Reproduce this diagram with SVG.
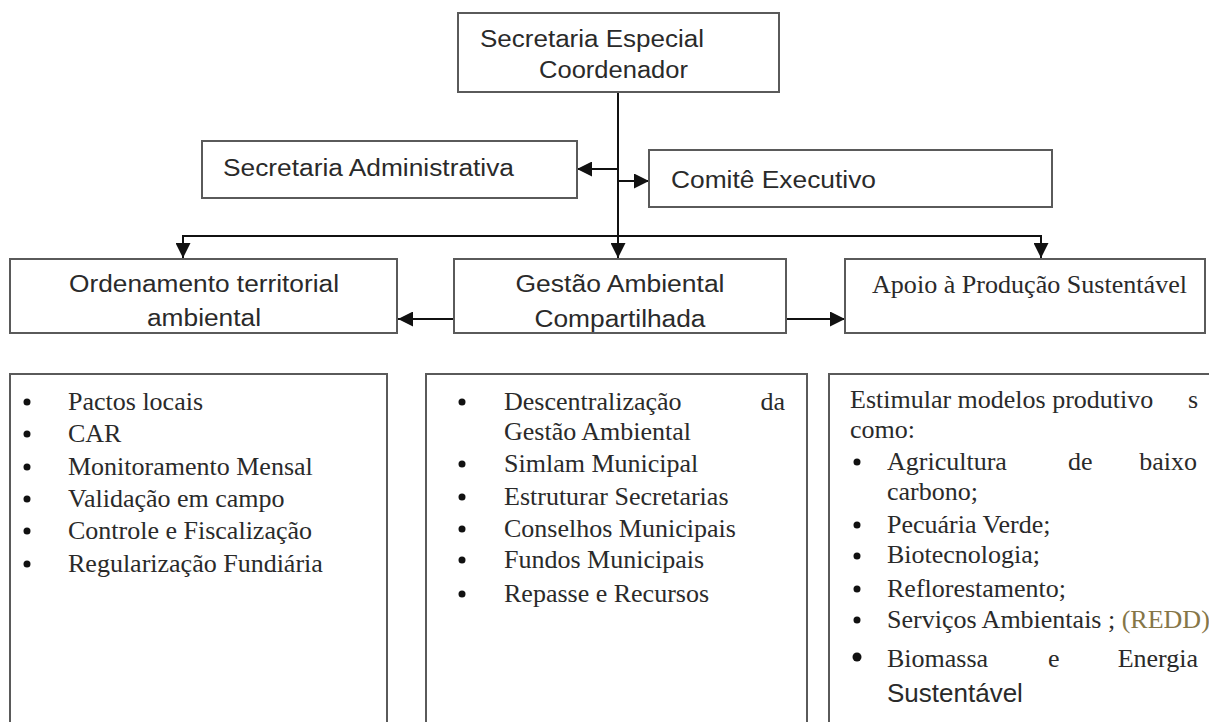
<svg xmlns="http://www.w3.org/2000/svg" width="1209" height="722" viewBox="0 0 1209 722">
  <style>
    .box { fill: #ffffff; stroke: #5a5a5a; stroke-width: 2; }
    .sans { font-family: "Liberation Sans", Arial, sans-serif; font-size: 23px; fill: #2a2a2a; }
    .serif { font-family: "Liberation Serif", "Times New Roman", serif; font-size: 26px; fill: #2a2a2a; }
    .wire { fill: none; stroke: #111111; stroke-width: 2; }
    .dot { fill: #111111; }
    .redd { fill: #857647; }
  </style>
  <defs>
    <marker id="arrow" markerUnits="userSpaceOnUse" markerWidth="15" markerHeight="15" refX="15" refY="7.5" orient="auto">
      <path d="M0,0 L15,7.5 L0,15 z" fill="#111111"/>
    </marker>
  </defs>
  <rect width="1209" height="722" fill="#ffffff"/>

  <!-- connectors -->
  <g id="connectors">
    <path class="wire" d="M618,92 V258" marker-end="url(#arrow)"/>
    <path class="wire" d="M618,169 H577" marker-end="url(#arrow)"/>
    <path class="wire" d="M618,181 H649" marker-end="url(#arrow)"/>
    <path class="wire" d="M618,236 H183 V258" marker-end="url(#arrow)"/>
    <path class="wire" d="M618,236 H1041 V258" marker-end="url(#arrow)"/>
    <path class="wire" d="M454,319 H398" marker-end="url(#arrow)"/>
    <path class="wire" d="M786,319 H845" marker-end="url(#arrow)"/>
  </g>

  <!-- top level -->
  <g id="secretaria-especial">
    <rect class="box" x="458" y="13" width="321" height="79"/>
    <text class="sans" x="480" y="47" textLength="224" lengthAdjust="spacingAndGlyphs">Secretaria Especial</text>
    <text class="sans" x="539" y="78" textLength="149" lengthAdjust="spacingAndGlyphs">Coordenador</text>
  </g>

  <g id="secretaria-administrativa">
    <rect class="box" x="202" y="141" width="375" height="57"/>
    <text class="sans" x="223" y="176" textLength="291" lengthAdjust="spacingAndGlyphs">Secretaria Administrativa</text>
  </g>

  <g id="comite-executivo">
    <rect class="box" x="649" y="150" width="403" height="57"/>
    <text class="sans" x="671" y="188" textLength="205" lengthAdjust="spacingAndGlyphs">Comitê Executivo</text>
  </g>

  <!-- second level -->
  <g id="ordenamento">
    <rect class="box" x="10" y="259" width="387" height="74"/>
    <text class="sans" x="204" y="292" text-anchor="middle" textLength="270" lengthAdjust="spacingAndGlyphs">Ordenamento territorial</text>
    <text class="sans" x="204" y="326" text-anchor="middle" textLength="114" lengthAdjust="spacingAndGlyphs">ambiental</text>
  </g>

  <g id="gestao">
    <rect class="box" x="454" y="259" width="332" height="74"/>
    <text class="sans" x="620" y="292" text-anchor="middle" textLength="209" lengthAdjust="spacingAndGlyphs">Gestão Ambiental</text>
    <text class="sans" x="620" y="327" text-anchor="middle" textLength="171" lengthAdjust="spacingAndGlyphs">Compartilhada</text>
  </g>

  <g id="apoio">
    <rect class="box" x="845" y="259" width="360" height="74"/>
    <text class="serif" x="872" y="293" textLength="315" lengthAdjust="spacingAndGlyphs">Apoio à Produção Sustentável</text>
  </g>

  <!-- detail lists -->
  <g id="lista-ordenamento">
    <rect class="box" x="10" y="374" width="377" height="370"/>
    <circle class="dot" cx="27" cy="402" r="3.5"/>
    <circle class="dot" cx="27" cy="434" r="3.5"/>
    <circle class="dot" cx="27" cy="467" r="3.5"/>
    <circle class="dot" cx="27" cy="499" r="3.5"/>
    <circle class="dot" cx="27" cy="531" r="3.5"/>
    <circle class="dot" cx="27" cy="564" r="3.5"/>
    <text class="serif" x="68" y="410">Pactos locais</text>
    <text class="serif" x="68" y="442">CAR</text>
    <text class="serif" x="68" y="475">Monitoramento Mensal</text>
    <text class="serif" x="68" y="507">Validação em campo</text>
    <text class="serif" x="68" y="539">Controle e Fiscalização</text>
    <text class="serif" x="68" y="572">Regularização Fundiária</text>
  </g>

  <g id="lista-gestao">
    <rect class="box" x="426" y="374" width="381" height="370"/>
    <circle class="dot" cx="462" cy="402" r="3.5"/>
    <circle class="dot" cx="462" cy="464" r="3.5"/>
    <circle class="dot" cx="462" cy="497" r="3.5"/>
    <circle class="dot" cx="462" cy="529" r="3.5"/>
    <circle class="dot" cx="462" cy="560" r="3.5"/>
    <circle class="dot" cx="462" cy="594" r="3.5"/>
    <text class="serif" x="504" y="410">Descentralização</text>
    <text class="serif" x="785" y="410" text-anchor="end">da</text>
    <text class="serif" x="504" y="440">Gestão Ambiental</text>
    <text class="serif" x="504" y="472">Simlam Municipal</text>
    <text class="serif" x="504" y="505">Estruturar Secretarias</text>
    <text class="serif" x="504" y="537">Conselhos Municipais</text>
    <text class="serif" x="504" y="568">Fundos Municipais</text>
    <text class="serif" x="504" y="602">Repasse e Recursos</text>
  </g>

  <g id="lista-apoio">
    <rect class="box" x="829" y="374" width="390" height="370"/>
    <text class="serif" x="850" y="408">Estimular modelos produtivo</text>
    <text class="serif" x="1188" y="408">s</text>
    <text class="serif" x="850" y="438">como:</text>
    <circle class="dot" cx="857" cy="462" r="3.5"/>
    <text class="serif" x="887" y="470">Agricultura</text>
    <text class="serif" x="1068" y="470">de</text>
    <text class="serif" x="1197" y="470" text-anchor="end">baixo</text>
    <text class="serif" x="887" y="500">carbono;</text>
    <circle class="dot" cx="857" cy="525" r="3.5"/>
    <text class="serif" x="887" y="533">Pecuária Verde;</text>
    <circle class="dot" cx="857" cy="556" r="3.5"/>
    <text class="serif" x="887" y="563">Biotecnologia;</text>
    <circle class="dot" cx="857" cy="589" r="3.5"/>
    <text class="serif" x="887" y="597">Reflorestamento;</text>
    <circle class="dot" cx="857" cy="620" r="3.5"/>
    <text class="serif" x="887" y="628">Serviços Ambientais ; <tspan class="redd">(REDD)</tspan></text>
    <circle class="dot" cx="857" cy="657" r="4.5"/>
    <text class="serif" x="887" y="667">Biomassa</text>
    <text class="serif" x="1048" y="667">e</text>
    <text class="serif" x="1198" y="667" text-anchor="end">Energia</text>
    <text class="sans" x="887" y="702" style="font-size:26px">Sustentável</text>
  </g>
</svg>
